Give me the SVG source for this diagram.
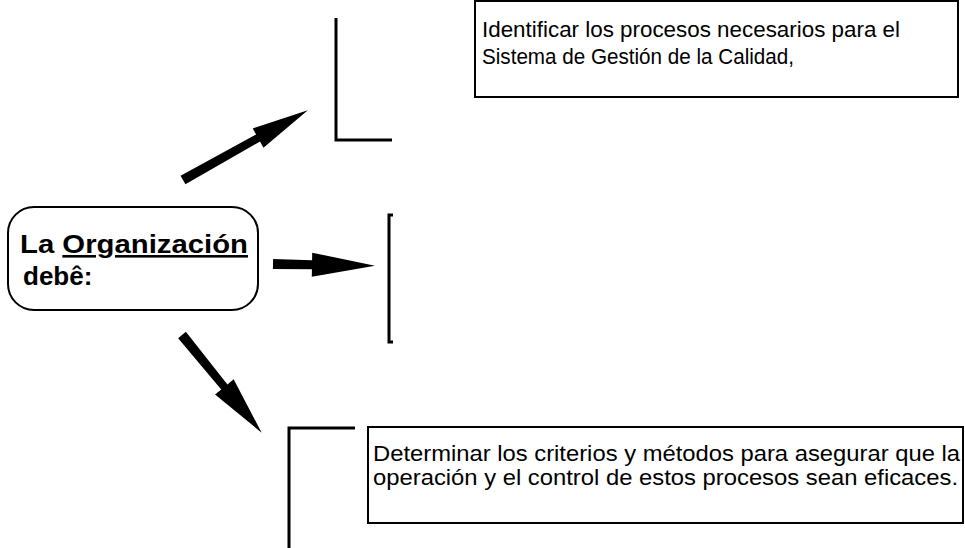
<svg xmlns="http://www.w3.org/2000/svg" width="965" height="548" viewBox="0 0 965 548">
<style>
.bk{fill:none;stroke:#000;stroke-width:3}
.bx{fill:#fff;stroke:#000;stroke-width:2}
.ar{fill:#000}
.t{font-family:"Liberation Sans",Arial,sans-serif;fill:#000}
.h{font-family:"Liberation Sans",Arial,sans-serif;font-weight:bold;fill:#000;font-size:26px}
</style>
<rect width="965" height="548" fill="#fff"/>
<g id="center">
<rect class="bx" x="8" y="207" width="250" height="103" rx="26" stroke-width="2.5"/>
<text class="h" x="20" y="253" textLength="228" lengthAdjust="spacingAndGlyphs">La <tspan text-decoration="underline">Organización</tspan></text>
<text class="h" x="23" y="285">debê:</text>
</g>
<g id="connectors">
<polygon class="ar" transform="translate(183,180) rotate(-29.2)" points="0,-5 86,-4 86,-11 143,0 86,11 86,4 0,5"/>
<polygon class="ar" transform="translate(273,264) rotate(1)" points="0,-5 39,-4.5 39,-12 102,0 39,12 39,4.5 0,5"/>
<polygon class="ar" transform="translate(182,335) rotate(50.8)" points="0,-5 67,-4 67,-12 126,0 67,12 67,4 0,5"/>
</g>
<g id="bracket1"><path class="bk" d="M336,18 V140 H392"/></g>
<g id="bracket2"><path class="bk" d="M393,215 H389 V342 H393"/></g>
<g id="bracket3"><path class="bk" d="M289,548 V428 H355"/></g>
<g id="box1">
<rect class="bx" x="475" y="1" width="483" height="96"/>
<text class="t" font-size="21.5" x="482" y="37" textLength="418" lengthAdjust="spacingAndGlyphs">Identificar los procesos necesarios para el</text>
<text class="t" font-size="21.5" x="482" y="64" textLength="312" lengthAdjust="spacingAndGlyphs">Sistema de Gestión de la Calidad,</text>
</g>
<g id="box2">
<rect class="bx" x="368" y="427" width="595" height="96"/>
<text class="t" font-size="22" x="373" y="461" textLength="587" lengthAdjust="spacingAndGlyphs">Determinar los criterios y métodos para asegurar que la</text>
<text class="t" font-size="22" x="373" y="485" textLength="585" lengthAdjust="spacingAndGlyphs">operación y el control de estos procesos sean eficaces.</text>
</g>
</svg>
